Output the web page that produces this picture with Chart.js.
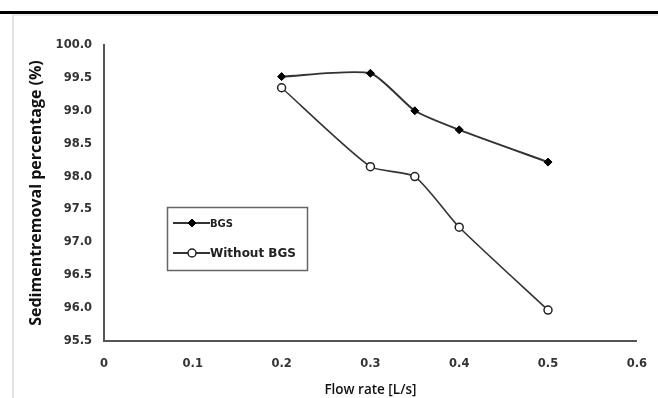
<!DOCTYPE html>
<html>
<head>
<meta charset="utf-8">
<script src="https://cdn.jsdelivr.net/npm/chart.js"></script>
<style>
html,body{margin:0;padding:0;background:#fff;}
#wrap{position:relative;width:658px;height:398px;overflow:hidden;}
#topline{position:absolute;left:0;top:11px;width:658px;height:3px;background:#000;}
#subline{position:absolute;left:13px;top:14px;width:645px;height:2px;background:#ececec;}
#leftline{position:absolute;left:12px;top:14px;width:2px;height:384px;background:#e4e4e4;}
#cv{position:absolute;left:0;top:0;}
</style>
</head>
<body>
<div id="wrap">
<canvas id="cv" width="658" height="398"></canvas>
<div id="topline"></div>
<div id="subline"></div>
<div id="leftline"></div>
</div>
<script>
// flow rate (L/s) and sediment removal (%)
var flowRate = [0.2, 0.3, 0.35, 0.4, 0.5];
var bgsValues = [99.52, 99.57, 99.0, 98.71, 98.22];
var noBgsValues = [99.35, 98.15, 98.0, 97.23, 95.97];
var seriesNames = ["BGS", "Without BGS"];
var xTicks = [0, 0.1, 0.2, 0.3, 0.4, 0.5, 0.6];

var tickFont = {family: "'DejaVu Sans', sans-serif", size: 11.5, weight: "bold"};

function toPoints(xs, ys){
	var pts = [];
	for(var i = 0; i < xs.length; i++){
		pts.push({x: xs[i], y: ys[i]});
	}
	return pts;
}

// legend box sits inside the plot area
var boxLegend = {
	id: "boxLegend",
	afterDraw: function(chart){
		var ctx = chart.ctx;
		var x0 = 167, y0 = 207, w = 140, h = 63;
		ctx.save();
		ctx.fillStyle = "#fff";
		ctx.fillRect(x0, y0, w, h);
		ctx.strokeStyle = "#666";
		ctx.lineWidth = 1.5;
		ctx.strokeRect(x0 + 0.5, y0 + 0.5, w, h);
		var ds = chart.data.datasets;
		for(var i = 0; i < ds.length; i++){
			var yy = y0 + 16 + i * 30;
			ctx.strokeStyle = "#333";
			ctx.lineWidth = 2;
			ctx.beginPath();
			ctx.moveTo(x0 + 6, yy);
			ctx.lineTo(x0 + 43, yy);
			ctx.stroke();
			ctx.fillStyle = ds[i].pointBackgroundColor;
			ctx.strokeStyle = ds[i].pointBorderColor;
			ctx.lineWidth = ds[i].pointBorderWidth;
			Chart.helpers.drawPoint(ctx, {
				pointStyle: ds[i].pointStyle,
				radius: ds[i].pointRadius,
				borderWidth: ds[i].pointBorderWidth
			}, x0 + 25, yy);
			ctx.fillStyle = "#222";
			ctx.font = (i == 0 ? "bold 10px" : "bold 12px") + " 'DejaVu Sans', sans-serif";
			ctx.textBaseline = "middle";
			ctx.fillText(seriesNames[i], x0 + 43, yy + 1);
		}
		ctx.restore();
	}
};

var ctx = document.getElementById("cv").getContext("2d");
var chart = new Chart(ctx, {
	type: "scatter",
	data: {
		datasets: [{
			label: seriesNames[0],
			data: toPoints(flowRate, bgsValues),
			showLine: true,
			borderColor: "#333",
			borderWidth: 2,
			tension: 0.2,
			pointStyle: "rectRot",
			pointRadius: 4,
			pointBorderWidth: 1,
			pointBackgroundColor: "#000",
			pointBorderColor: "#000"
		},{
			label: seriesNames[1],
			data: toPoints(flowRate, noBgsValues),
			showLine: true,
			borderColor: "#333",
			borderWidth: 1.6,
			tension: 0.2,
			pointStyle: "circle",
			pointRadius: 4,
			pointBorderWidth: 1.5,
			pointBackgroundColor: "#fff",
			pointBorderColor: "#222"
		}]
	},
	options: {
		responsive: false,
		animation: false,
		layout: {padding: {left: 0, right: 19, top: 45, bottom: 0}},
		plugins: {legend: {display: false}, tooltip: {enabled: false}},
		scales: {
			x: {
				type: "linear",
				min: 0, max: 0.6,
				afterBuildTicks: function(axis){
					axis.ticks = xTicks.map(function(v){ return {value: v}; });
				},
				afterFit: function(axis){ axis.height = 57; },
				grid: {display: false, drawTicks: true, tickLength: 5, tickColor: "#555"},
				border: {display: true, color: "#555", width: 2},
				ticks: {
					color: "#333", font: tickFont, padding: 11, maxRotation: 0,
					callback: function(v){ return v === 0 ? "0" : String(v); }
				},
				title: {display: true, text: "Flow rate [L/s]", color: "#111",
					font: {family: "'Open Sans', sans-serif", size: 13.5, weight: "600"}, padding: {top: 0, bottom: 0}}
			},
			y: {
				min: 95.5, max: 100,
				afterFit: function(axis){ axis.width = 104; },
				ticks: {stepSize: 0.5, color: "#333", font: tickFont, padding: 8,
					callback: function(v){ return v.toFixed(1); }},
				grid: {display: false, drawTicks: true, tickLength: 4, tickColor: "#555"},
				border: {display: true, color: "#555", width: 2},
				title: {display: true, text: "Sedimentremoval percentage (%)", color: "#111",
					font: {family: "'Open Sans', sans-serif", size: 16, weight: "bold"}, padding: {top: 27, bottom: 0}}
			}
		}
	},
	plugins: [boxLegend]
});
</script>
</body>
</html>
